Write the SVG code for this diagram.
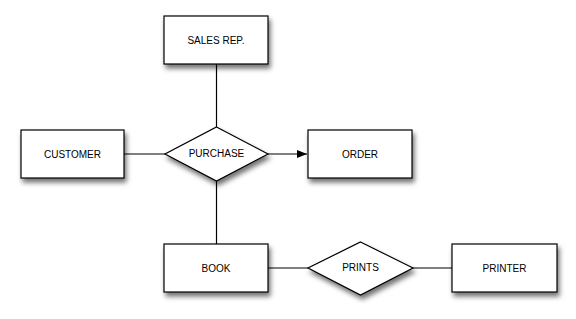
<svg xmlns="http://www.w3.org/2000/svg" width="576" height="319" viewBox="0 0 576 319">
<style>
.shape{fill:#fff;stroke:#000;stroke-width:1.2;filter:url(#sh)}
.lbl{font-family:"Liberation Sans",Arial,sans-serif;font-size:10px;fill:#000;text-anchor:middle;dominant-baseline:central}
.conn{stroke:#000;stroke-width:1.2;fill:none}
</style>
<defs>
<filter id="sh" x="-20%" y="-20%" width="150%" height="160%">
<feDropShadow dx="2" dy="4" stdDeviation="2.5" flood-color="#000" flood-opacity="0.55"/>
</filter>
<marker id="arr" markerWidth="10" markerHeight="8" refX="10" refY="4" orient="auto" markerUnits="userSpaceOnUse">
<path d="M0,0 L10,4 L0,8 Z" fill="#000"/>
</marker>
</defs>
<g id="connectors">
<line class="conn" x1="216.5" y1="64" x2="216.5" y2="127"/>
<line class="conn" x1="124" y1="154" x2="165" y2="154"/>
<line class="conn" x1="268" y1="154" x2="307" y2="154" marker-end="url(#arr)"/>
<line class="conn" x1="216.5" y1="181" x2="216.5" y2="244"/>
<line class="conn" x1="268" y1="268" x2="308" y2="268"/>
<line class="conn" x1="413" y1="268" x2="452" y2="268"/>
</g>
<g id="sales-rep"><rect class="shape" x="164" y="16" width="104" height="48"/><text class="lbl" x="216" y="40">SALES REP.</text></g>
<g id="customer"><rect class="shape" x="21" y="130" width="103" height="48"/><text class="lbl" x="72.5" y="154">CUSTOMER</text></g>
<g id="purchase"><polygon class="shape" points="216.5,127 268,154 216.5,181 165,154"/><text class="lbl" x="216.5" y="153">PURCHASE</text></g>
<g id="order"><rect class="shape" x="308" y="130" width="104" height="48"/><text class="lbl" x="360" y="154">ORDER</text></g>
<g id="book"><rect class="shape" x="164" y="244" width="104" height="48"/><text class="lbl" x="216" y="268">BOOK</text></g>
<g id="prints"><polygon class="shape" points="360.5,242 413,268 360.5,295 308,268"/><text class="lbl" x="360.5" y="267">PRINTS</text></g>
<g id="printer"><rect class="shape" x="452" y="244" width="105" height="48"/><text class="lbl" x="504.5" y="268">PRINTER</text></g>
</svg>
